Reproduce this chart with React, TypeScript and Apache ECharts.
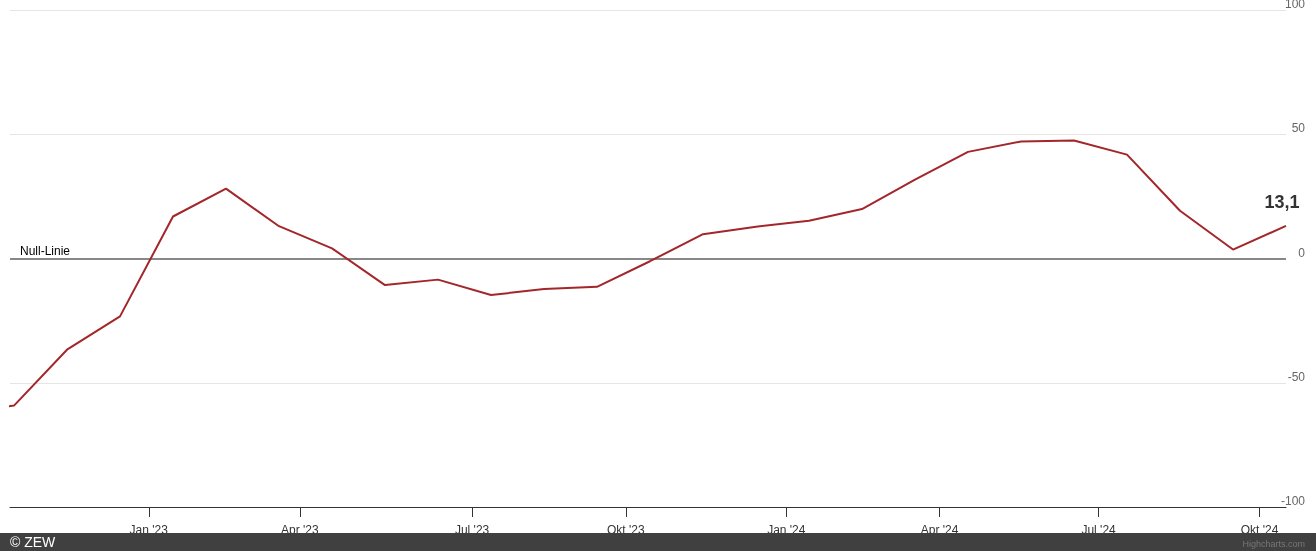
import React, { useEffect, useRef } from "react";
import * as echarts from "echarts";

// ZEW release dates (points are equally spaced, Highcharts ordinal axis)
const releaseDates: string[] = [
  "2022-09-20", "2022-10-18", "2022-11-15", "2022-12-13",
  "2023-01-17", "2023-02-21", "2023-03-21", "2023-04-18", "2023-05-16", "2023-06-13",
  "2023-07-11", "2023-08-15", "2023-09-12", "2023-10-17", "2023-11-14", "2023-12-12",
  "2024-01-16", "2024-02-20", "2024-03-19", "2024-04-16", "2024-05-14", "2024-06-18",
  "2024-07-16", "2024-08-13", "2024-09-17", "2024-10-15",
];
const sentiment: number[] = [
  -61.9, -59.2, -36.7, -23.3,
  16.9, 28.1, 13.0, 4.1, -10.7, -8.5,
  -14.7, -12.3, -11.4, -1.1, 9.8, 12.8,
  15.2, 19.9, 31.7, 42.9, 47.1, 47.5,
  41.8, 19.2, 3.6, 13.1,
];
const monthNames: string[] = ["Jan", "Feb", "Mär", "Apr", "Mai", "Jun", "Jul", "Aug", "Sep", "Okt", "Nov", "Dez"];
const tickMonths: string[] = ["2023-01-01", "2023-04-01", "2023-07-01", "2023-10-01", "2024-01-01", "2024-04-01", "2024-07-01", "2024-10-01"];
const yTicks = { min: -100, max: 100, interval: 50 };

const FONT = '"Liberation Sans", Arial, sans-serif';

function ordinalPos(dateStr: string): number {
  const t = Date.parse(dateStr);
  const ts = releaseDates.map((d) => Date.parse(d));
  for (let i = 0; i < ts.length - 1; i++) {
    if (t >= ts[i] && t <= ts[i + 1]) return i + (t - ts[i]) / (ts[i + 1] - ts[i]);
  }
  return ts.length - 1;
}

export default function App() {
  const ref = useRef<HTMLDivElement>(null);
  useEffect(() => {
    if (!ref.current) return;
    const chart = echarts.init(ref.current, undefined, { renderer: "svg" });
    const tickVals = tickMonths.map((m) => ordinalPos(m));
    const tickLabels = tickMonths.map((m) => {
      const d = new Date(m + "T00:00:00Z");
      return monthNames[d.getUTCMonth()] + " '" + String(d.getUTCFullYear()).slice(2);
    });
    const fmtX = (v: number) => {
      let best = 0;
      let bd = Infinity;
      tickVals.forEach((tv, i) => {
        const dd = Math.abs(tv - v);
        if (dd < bd) { bd = dd; best = i; }
      });
      return tickLabels[best];
    };
    const lineData = sentiment.map((v, i) => [i, v]);
    const last = lineData[lineData.length - 1];
    chart.setOption({
      animation: false,
      textStyle: { fontFamily: FONT },
      grid: { left: 10, right: 30, top: 10, bottom: 44, containLabel: false, outerBoundsMode: "none" },
      xAxis: {
        type: "value",
        min: 1 - 4 / 53,
        max: sentiment.length - 1,
        axisLine: { show: true, onZero: false, lineStyle: { color: "#333", width: 1 } },
        axisTick: { show: true, length: 10, lineStyle: { color: "#333" }, customValues: tickVals },
        axisLabel: {
          show: true, customValues: tickVals, formatter: fmtX,
          color: "#333", fontSize: 12, margin: 17, fontFamily: FONT,
        },
        splitLine: { show: false },
      },
      yAxis: {
        type: "value",
        position: "right",
        min: yTicks.min,
        max: yTicks.max,
        interval: yTicks.interval,
        axisLine: { show: false },
        axisTick: { show: false },
        axisLabel: {
          color: "#666", fontSize: 12, align: "right", verticalAlign: "bottom",
          margin: 19, fontFamily: FONT,
        },
        splitLine: { show: true, lineStyle: { color: "#e6e6e6", width: 1 } },
      },
      series: [
        {
          type: "line",
          data: lineData,
          showSymbol: false,
          symbol: "none",
          lineStyle: { color: "#a2262a", width: 2 },
          itemStyle: { color: "#a2262a" },
          z: 3,
          markLine: {
            silent: true,
            symbol: "none",
            lineStyle: { color: "#888", width: 2, type: "solid" },
            label: {
              show: true, position: "insideStartTop", formatter: "Null-Linie",
              color: "#000", fontSize: 12, fontFamily: FONT, padding: [0, 0, 0, 8], distance: 2,
            },
            data: [{ yAxis: 0 }],
            z: 2,
          },
        },
        {
          type: "scatter",
          data: [last],
          symbolSize: 0,
          silent: true,
          label: {
            show: true, position: "top", distance: 15, offset: [-4, 0],
            formatter: (p: any) => String(p.value[1]).replace(".", ","),
            color: "#000", fontSize: 18, fontWeight: "bold", fontFamily: FONT,
          },
          z: 4,
        },
      ],
      graphic: [
        { type: "rect", left: 0, bottom: 0, shape: { width: 1316, height: 18 }, style: { fill: "#404040" }, z: 100 },
        { type: "text", left: 10, bottom: 2, style: { text: "© ZEW", fill: "#fff", fontSize: 14, fontFamily: FONT }, z: 101 },
        { type: "text", right: 11, bottom: 3, style: { text: "Highcharts.com", fill: "#777", fontSize: 9, fontFamily: FONT }, z: 101 },
      ],
    });
    return () => chart.dispose();
  }, []);
  return <div ref={ref} style={{ position: "fixed", left: 0, top: 0, width: 1316, height: 551 }} />;
}
